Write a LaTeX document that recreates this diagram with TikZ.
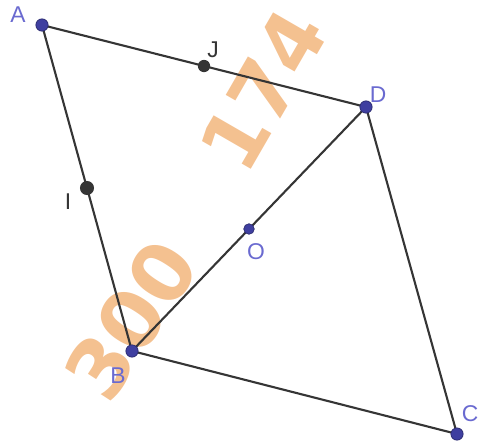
\documentclass[tikz,border=0pt]{standalone}
\usepackage{fontspec}
\setmainfont{Liberation Sans}
\newfontfamily\wmfont{DejaVu Sans}
\usepackage{xcolor}
\usetikzlibrary{positioning,calc}
\definecolor{ptblue}{HTML}{3F3FA0}
\definecolor{lblblue}{HTML}{6A6AD0}
\definecolor{seg}{HTML}{353535}
\definecolor{wmark}{HTML}{EE9F55}
\tikzset{
  pt/.style={circle,fill=ptblue,draw=ptblue!70!black,inner sep=0pt,minimum size=7pt},
  ptg/.style={circle,fill=seg,inner sep=0pt,minimum size=8pt},
  side/.style={draw=seg,line width=1.2pt},
  lbl/.style={text=lblblue,font=\fontsize{13}{13}\selectfont,inner sep=1pt},
  lblg/.style={lbl,text=seg},
  wm/.style={text=wmark,text opacity=0.65,font=\wmfont\fontsize{46}{46}\selectfont\bfseries,inner sep=0pt}
}

\begin{document}
\begin{tikzpicture}[x=0.02cm,y=-0.02cm]
  \useasboundingbox (0,0) rectangle (483,443);
  % watermark
  \node[wm,rotate=57] (w1) at (131,320) {300};
  \node[wm,rotate=60] (w2) at (263,90) {174};
  \coordinate (A) at (42,25);
  \coordinate (B) at (132,351);
  \coordinate (C) at (457,434);
  \coordinate (D) at (366,107);
  \draw[side] (A) -- (B) -- (C) -- (D) -- cycle;
  \draw[side] (B) -- (D);
  \node[ptg] (I) at ($(A)!0.5!(B)$) {};
  \node[ptg,minimum size=7pt] (J) at ($(A)!0.5!(D)$) {};
  \node[pt,minimum size=6pt] (O) at ($(B)!0.5!(D)$) {};
  \foreach \p in {A,B,C,D}
    \node[pt] (p\p) at (\p) {};
  \node[lbl] (lA) at (18,15) {A};
  \node[lbl] (lB) at (118,376) {B};
  \node[lbl] (lC) at (470,414) {C};
  \node[lbl] (lD) at (378,95) {D};
  \node[lbl] (lO) at (256,252) {O};
  \node[lblg] (lI) at (68,202) {I};
  \node[lblg] (lJ) at (213,50) {J};
\end{tikzpicture}
\end{document}
